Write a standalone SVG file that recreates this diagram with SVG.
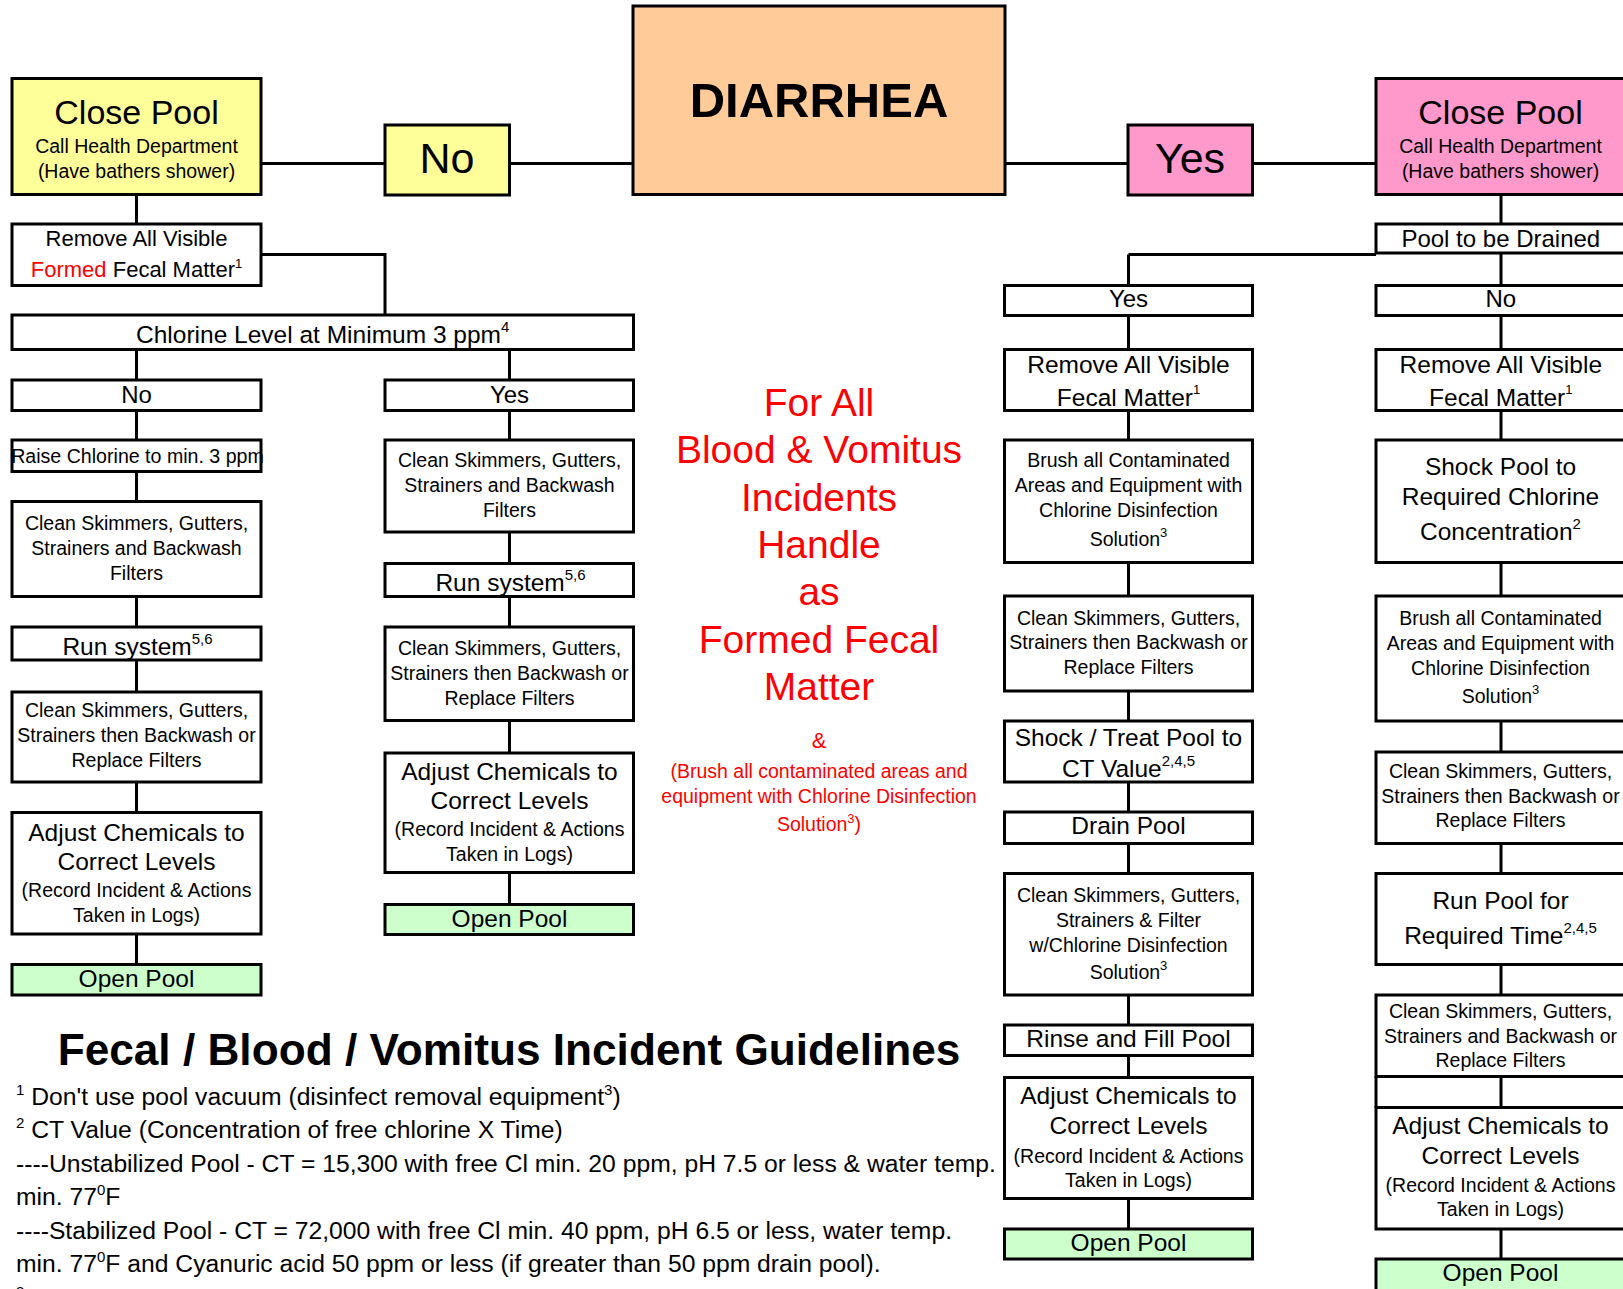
<svg xmlns="http://www.w3.org/2000/svg" width="1623" height="1289" viewBox="0 0 1623 1289">
<style>
text { font-family: "Liberation Sans", Arial, sans-serif; fill: #000; }
.box { stroke: #000; stroke-width: 3; fill: #fff; }
.yel { fill: #FFFF99; }
.org { fill: #FFCC99; }
.pnk { fill: #FF99CC; }
.grn { fill: #CCFFCC; }
.c { text-anchor: middle; }
.b { font-size: 24.5px; transform: translateY(-1.5px); }
.f { font-size: 24.7px; }
.s { font-size: 19.5px; }
.m { font-size: 22px; }
.red { fill: #FF0000; }
.conn path { stroke: #000; stroke-width: 3; fill: none; }
</style>
<rect width="1623" height="1289" fill="#fff"/>

<g class="conn" id="connectors">
<path d="M261,163.5 H385 M509.5,163.5 H633 M1005,163.5 H1128 M1252.5,163.5 H1376"/>
<path d="M136.5,194.5 V224 M261,254.5 H385 V315"/>
<path d="M136.5,349.5 V380 M509.5,349.5 V380"/>
<path d="M136.5,410.5 V440 M136.5,471.5 V501.5 M136.5,596.5 V627 M136.5,660 V692 M136.5,782 V812.5 M136.5,934 V964.5"/>
<path d="M509.5,410.5 V440 M509.5,532 V563.5 M509.5,596.5 V627 M509.5,720.5 V753 M509.5,872.5 V904.5"/>
<path d="M1501,194.5 V224 M1128.5,254.5 H1376 M1128.5,254.5 V285.5 M1501,253 V285.5"/>
<path d="M1128.5,315.5 V349.5 M1128.5,410.5 V440 M1128.5,562.5 V596 M1128.5,691 V721 M1128.5,782 V812 M1128.5,843.5 V873.5 M1128.5,995 V1025 M1128.5,1055.5 V1077.5 M1128.5,1198.5 V1229"/>
<path d="M1501,315.5 V349.5 M1501,410.5 V440 M1501,562.5 V596 M1501,721 V752 M1501,843.5 V873.5 M1501,964.5 V995 M1501,1076.5 V1107.5 M1501,1229 V1259"/>
<path d="M1376,1076.5 V1107.5"/>
</g>

<g id="close-pool-left">
<rect class="box yel" x="12" y="78.5" width="249" height="116"/>
<text class="c" x="136.5" y="123.8" font-size="34">Close Pool</text>
<text class="c s" x="136.5" y="153.3">Call Health Department</text>
<text class="c s" x="136.5" y="178.3">(Have bathers shower)</text>
</g>
<g id="no-top">
<rect class="box yel" x="385" y="125" width="124.5" height="70"/>
<text class="c" x="447" y="173" font-size="43">No</text>
</g>
<g id="diarrhea">
<rect class="box org" x="633" y="6" width="372" height="188.5"/>
<text class="c" x="819" y="117" font-size="49" font-weight="bold">DIARRHEA</text>
</g>
<g id="yes-top">
<rect class="box pnk" x="1128" y="125" width="124.5" height="70"/>
<text class="c" x="1190" y="172.7" font-size="43">Yes</text>
</g>
<g id="close-pool-right">
<rect class="box pnk" x="1376" y="78.5" width="252" height="116"/>
<text class="c" x="1500.5" y="123.8" font-size="34">Close Pool</text>
<text class="c s" x="1500.5" y="153.3">Call Health Department</text>
<text class="c s" x="1500.5" y="178.3">(Have bathers shower)</text>
</g>

<!-- Left column -->
<g id="remove-formed">
<rect class="box" x="12" y="224" width="249" height="61.5"/>
<text class="c m" x="136.5" y="246">Remove All Visible</text>
<text class="c m" x="136.5" y="277.3"><tspan class="red">Formed</tspan> Fecal Matter<tspan font-size="13" dy="-9">1</tspan></text>
</g>
<g id="chlorine-level">
<rect class="box" x="12" y="315" width="621.5" height="34.5"/>
<text class="c b" x="322.7" y="344.5">Chlorine Level at Minimum 3 ppm<tspan font-size="15" dy="-11">4</tspan></text>
</g>
<g id="no-left">
<rect class="box" x="12" y="380" width="249" height="30.5"/>
<text class="c" x="136.5" y="402.7" font-size="24">No</text>
</g>
<g id="yes-left">
<rect class="box" x="385" y="380" width="248.5" height="30.5"/>
<text class="c" x="509.5" y="402.7" font-size="24">Yes</text>
</g>
<g id="raise-chlorine">
<rect class="box" x="12" y="440" width="249" height="31.5"/>
<text class="c" x="137.5" y="462.5" font-size="19.6">Raise Chlorine to min. 3 ppm</text>
</g>
<g id="clean-l1">
<rect class="box" x="12" y="501.5" width="249" height="95"/>
<text class="c s" x="136.5" y="529.5">Clean Skimmers, Gutters,</text>
<text class="c s" x="136.5" y="555">Strainers and Backwash</text>
<text class="c s" x="136.5" y="580">Filters</text>
</g>
<g id="run-l">
<rect class="box" x="12" y="627" width="249" height="33"/>
<text class="c b" x="137.5" y="656.3">Run system<tspan font-size="15" dy="-11">5,6</tspan></text>
</g>
<g id="clean-l2">
<rect class="box" x="12" y="692" width="249" height="90"/>
<text class="c s" x="136.5" y="716.5">Clean Skimmers, Gutters,</text>
<text class="c s" x="136.5" y="742">Strainers then Backwash or</text>
<text class="c s" x="136.5" y="767">Replace Filters</text>
</g>
<g id="adjust-l">
<rect class="box" x="12" y="812.5" width="249" height="121.5"/>
<text class="c b" x="136.5" y="842">Adjust Chemicals to</text>
<text class="c b" x="136.5" y="871.8">Correct Levels</text>
<text class="c s" x="136.5" y="897">(Record Incident &amp; Actions</text>
<text class="c s" x="136.5" y="922.3">Taken in Logs)</text>
</g>
<g id="open-l">
<rect class="box grn" x="12" y="964.5" width="249" height="30.5"/>
<text class="c b" x="136.5" y="988.6">Open Pool</text>
</g>

<!-- Second column -->
<g id="clean-y1">
<rect class="box" x="385" y="440" width="248.5" height="92"/>
<text class="c s" x="509.5" y="467">Clean Skimmers, Gutters,</text>
<text class="c s" x="509.5" y="491.5">Strainers and Backwash</text>
<text class="c s" x="509.5" y="516.5">Filters</text>
</g>
<g id="run-y">
<rect class="box" x="385" y="563.5" width="248.5" height="33"/>
<text class="c b" x="510.5" y="592">Run system<tspan font-size="15" dy="-11">5,6</tspan></text>
</g>
<g id="clean-y2">
<rect class="box" x="385" y="627" width="248.5" height="93.5"/>
<text class="c s" x="509.5" y="654.5">Clean Skimmers, Gutters,</text>
<text class="c s" x="509.5" y="680">Strainers then Backwash or</text>
<text class="c s" x="509.5" y="705">Replace Filters</text>
</g>
<g id="adjust-y">
<rect class="box" x="385" y="753" width="248.5" height="119.5"/>
<text class="c b" x="509.5" y="781">Adjust Chemicals to</text>
<text class="c b" x="509.5" y="810.6">Correct Levels</text>
<text class="c s" x="509.5" y="836">(Record Incident &amp; Actions</text>
<text class="c s" x="509.5" y="860.8">Taken in Logs)</text>
</g>
<g id="open-y">
<rect class="box grn" x="385" y="904.5" width="248.5" height="30"/>
<text class="c b" x="509.5" y="928">Open Pool</text>
</g>

<!-- Center note -->
<g id="center-note">
<text class="c red" x="819" y="416" font-size="39">For All</text>
<text class="c red" x="819" y="463" font-size="39">Blood &amp; Vomitus</text>
<text class="c red" x="819" y="511.2" font-size="39">Incidents</text>
<text class="c red" x="819" y="558" font-size="39">Handle</text>
<text class="c red" x="819" y="604.7" font-size="39">as</text>
<text class="c red" x="819" y="653" font-size="39">Formed Fecal</text>
<text class="c red" x="819" y="699.7" font-size="39">Matter</text>
<text class="c red" x="819" y="748" font-size="22">&amp;</text>
<text class="c red s" x="819" y="778">(Brush all contaminated areas and</text>
<text class="c red s" x="819" y="803">equipment with Chlorine Disinfection</text>
<text class="c red s" x="819" y="831.4">Solution<tspan font-size="13" dy="-8">3</tspan><tspan dy="8">)</tspan></text>
</g>

<!-- Right side: drained -->
<g id="pool-drained">
<rect class="box" x="1376" y="224" width="252" height="29"/>
<text class="c" x="1500.8" y="246.7" font-size="24">Pool to be Drained</text>
</g>
<g id="yes-right">
<rect class="box" x="1004.5" y="285.5" width="248" height="30"/>
<text class="c" x="1128.5" y="306.7" font-size="24">Yes</text>
</g>
<g id="no-right">
<rect class="box" x="1376" y="285.5" width="252" height="30"/>
<text class="c" x="1500.8" y="306.7" font-size="24">No</text>
</g>
<g id="remove-y">
<rect class="box" x="1004.5" y="349.5" width="248" height="61"/>
<text class="c b" x="1128.5" y="374">Remove All Visible</text>
<text class="c b" x="1128.5" y="407.5">Fecal Matter<tspan font-size="13" dy="-12">1</tspan></text>
</g>
<g id="remove-n">
<rect class="box" x="1376" y="349.5" width="252" height="61"/>
<text class="c b" x="1500.8" y="374">Remove All Visible</text>
<text class="c b" x="1500.8" y="407.5">Fecal Matter<tspan font-size="13" dy="-12">1</tspan></text>
</g>

<!-- Third column -->
<g id="brush-3">
<rect class="box" x="1004.5" y="440" width="248" height="122.5"/>
<text class="c s" x="1128.5" y="467.3">Brush all Contaminated</text>
<text class="c s" x="1128.5" y="492.2">Areas and Equipment with</text>
<text class="c s" x="1128.5" y="517">Chlorine Disinfection</text>
<text class="c s" x="1128.5" y="546">Solution<tspan font-size="13" dy="-9">3</tspan></text>
</g>
<g id="clean-3a">
<rect class="box" x="1004.5" y="596" width="248" height="95"/>
<text class="c s" x="1128.5" y="624.8">Clean Skimmers, Gutters,</text>
<text class="c s" x="1128.5" y="649.2">Strainers then Backwash or</text>
<text class="c s" x="1128.5" y="673.8">Replace Filters</text>
</g>
<g id="shock-3">
<rect class="box" x="1004.5" y="721" width="248" height="61"/>
<text class="c b" x="1128.5" y="747">Shock / Treat Pool to</text>
<text class="c b" x="1128.5" y="778.5">CT Value<tspan font-size="15" dy="-11">2,4,5</tspan></text>
</g>
<g id="drain-3">
<rect class="box" x="1004.5" y="812" width="248" height="31.5"/>
<text class="c b" x="1128.5" y="835">Drain Pool</text>
</g>
<g id="clean-3b">
<rect class="box" x="1004.5" y="873.5" width="248" height="121.5"/>
<text class="c s" x="1128.5" y="901.5">Clean Skimmers, Gutters,</text>
<text class="c s" x="1128.5" y="926.5">Strainers &amp; Filter</text>
<text class="c s" x="1128.5" y="951.5">w/Chlorine Disinfection</text>
<text class="c s" x="1128.5" y="979.2">Solution<tspan font-size="13" dy="-9">3</tspan></text>
</g>
<g id="rinse-3">
<rect class="box" x="1004.5" y="1025" width="248" height="30.5"/>
<text class="c b" x="1128.5" y="1048.3">Rinse and Fill Pool</text>
</g>
<g id="adjust-3">
<rect class="box" x="1004.5" y="1077.5" width="248" height="121"/>
<text class="c b" x="1128.5" y="1105.5">Adjust Chemicals to</text>
<text class="c b" x="1128.5" y="1135">Correct Levels</text>
<text class="c s" x="1128.5" y="1162.5">(Record Incident &amp; Actions</text>
<text class="c s" x="1128.5" y="1187.2">Taken in Logs)</text>
</g>
<g id="open-3">
<rect class="box grn" x="1004.5" y="1229" width="248" height="30"/>
<text class="c b" x="1128.5" y="1252">Open Pool</text>
</g>

<!-- Fourth column -->
<g id="shock-4">
<rect class="box" x="1376" y="440" width="252" height="122.5"/>
<text class="c b" x="1500.5" y="476.5">Shock Pool to</text>
<text class="c b" x="1500.5" y="506.5">Required Chlorine</text>
<text class="c b" x="1500.5" y="541">Concentration<tspan font-size="15" dy="-11">2</tspan></text>
</g>
<g id="brush-4">
<rect class="box" x="1376" y="596" width="252" height="125"/>
<text class="c s" x="1500.5" y="624.8">Brush all Contaminated</text>
<text class="c s" x="1500.5" y="649.8">Areas and Equipment with</text>
<text class="c s" x="1500.5" y="674.8">Chlorine Disinfection</text>
<text class="c s" x="1500.5" y="703.2">Solution<tspan font-size="13" dy="-9">3</tspan></text>
</g>
<g id="clean-4a">
<rect class="box" x="1376" y="752" width="252" height="91.5"/>
<text class="c s" x="1500.5" y="778.2">Clean Skimmers, Gutters,</text>
<text class="c s" x="1500.5" y="803.2">Strainers then Backwash or</text>
<text class="c s" x="1500.5" y="827.2">Replace Filters</text>
</g>
<g id="run-4">
<rect class="box" x="1376" y="873.5" width="252" height="91"/>
<text class="c b" x="1500.5" y="910">Run Pool for</text>
<text class="c b" x="1500.5" y="945">Required Time<tspan font-size="15" dy="-11">2,4,5</tspan></text>
</g>
<g id="clean-4b">
<rect class="box" x="1376" y="995" width="252" height="81.5"/>
<text class="c s" x="1500.5" y="1018.2">Clean Skimmers, Gutters,</text>
<text class="c s" x="1500.5" y="1043.2">Strainers and Backwash or</text>
<text class="c s" x="1500.5" y="1066.5">Replace Filters</text>
</g>
<g id="adjust-4">
<rect class="box" x="1376" y="1107.5" width="252" height="121.5"/>
<text class="c b" x="1500.5" y="1135.5">Adjust Chemicals to</text>
<text class="c b" x="1500.5" y="1165.5">Correct Levels</text>
<text class="c s" x="1500.5" y="1191.5">(Record Incident &amp; Actions</text>
<text class="c s" x="1500.5" y="1215.8">Taken in Logs)</text>
</g>
<g id="open-4">
<rect class="box grn" x="1376" y="1259" width="252" height="40"/>
<text class="c b" x="1500.5" y="1282">Open Pool</text>
</g>

<!-- Guidelines -->
<g id="guidelines">
<text class="c" x="509" y="1065" font-size="44.2" font-weight="bold">Fecal / Blood / Vomitus Incident Guidelines</text>
<text class="f" x="16" y="1104.5"><tspan font-size="15" dy="-10">1</tspan><tspan dy="10"> Don't use pool vacuum (disinfect removal equipment</tspan><tspan font-size="15" dy="-10">3</tspan><tspan dy="10">)</tspan></text>
<text class="f" x="16" y="1138"><tspan font-size="15" dy="-10">2</tspan><tspan dy="10"> CT Value (Concentration of free chlorine X Time)</tspan></text>
<text class="f" x="16" y="1171.5">----Unstabilized Pool - CT = 15,300 with free Cl min. 20 ppm, pH 7.5 or less &amp; water temp.</text>
<text class="f" x="16" y="1205">min. 77<tspan font-size="15" dy="-10">0</tspan><tspan dy="10">F</tspan></text>
<text class="f" x="16" y="1238.5">----Stabilized Pool - CT = 72,000 with free Cl min. 40 ppm, pH 6.5 or less, water temp.</text>
<text class="f" x="16" y="1272">min. 77<tspan font-size="15" dy="-10">0</tspan><tspan dy="10">F and Cyanuric acid 50 ppm or less (if greater than 50 ppm drain pool).</tspan></text>
<text x="16" y="1297" font-size="15">3</text>
</g>
</svg>
